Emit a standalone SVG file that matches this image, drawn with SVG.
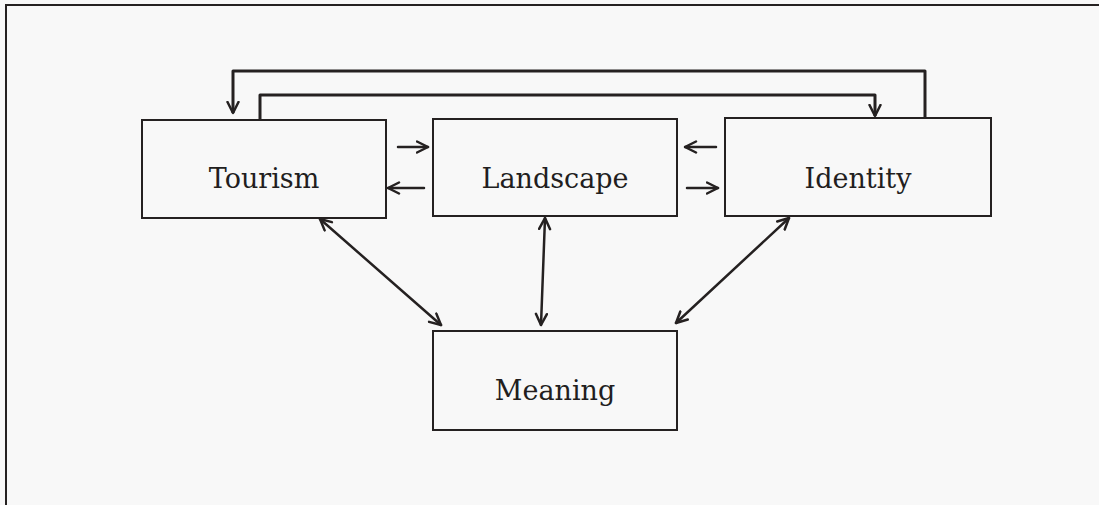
<svg xmlns="http://www.w3.org/2000/svg" width="1099" height="505" viewBox="0 0 1099 505">
  <style>
    .box { fill: none; stroke: #252121; stroke-width: 2; }
    .label { font-family: "DejaVu Serif", "Liberation Serif", serif; font-size: 27px; fill: #221e1e; text-anchor: middle; }
    .link { fill: none; stroke: #252121; stroke-width: 2.5; stroke-linecap: round; stroke-linejoin: round; }
    .loop { fill: none; stroke: #252121; stroke-width: 3; stroke-linejoin: round; }
  </style>
  <defs>
    <marker id="head" viewBox="0 0 14 14" refX="12.5" refY="7" markerWidth="14" markerHeight="14" markerUnits="userSpaceOnUse" orient="auto-start-reverse">
      <path d="M1.5,1.5 L12.5,7 L1.5,12.5" fill="none" stroke="#252121" stroke-width="2.5" stroke-linecap="round" stroke-linejoin="round"/>
    </marker>
  </defs>

  <!-- paper -->
  <rect x="0" y="0" width="1099" height="505" fill="#f8f8f8"/>
  <!-- frame -->
  <path d="M6,505 L6,5 L1099,5" fill="none" stroke="#252121" stroke-width="2"/>

  <g id="tourism">
    <rect class="box" x="142" y="120" width="244" height="98"/>
    <text class="label" x="264" y="188">Tourism</text>
  </g>
  <g id="landscape">
    <rect class="box" x="433" y="119" width="244" height="97"/>
    <text class="label" x="555" y="188">Landscape</text>
  </g>
  <g id="identity">
    <rect class="box" x="725" y="118" width="266" height="98"/>
    <text class="label" x="858" y="188">Identity</text>
  </g>
  <g id="meaning">
    <rect class="box" x="433" y="331" width="244" height="99"/>
    <text class="label" x="555" y="400">Meaning</text>
  </g>

  <g id="connectors">
    <!-- feedback loops across the top -->
    <path class="loop" d="M925,118 L925,71 L233,71 L233,113" marker-end="url(#head)"/>
    <path class="loop" d="M260,120 L260,95 L875,95 L875,116" stroke-width="2.6" marker-end="url(#head)"/>
    <!-- Tourism / Landscape -->
    <path class="link" d="M398,147 L428,147" marker-end="url(#head)"/>
    <path class="link" d="M424,188 L388,188" marker-end="url(#head)"/>
    <!-- Landscape / Identity -->
    <path class="link" d="M716,147 L685,147" marker-end="url(#head)"/>
    <path class="link" d="M687,188 L718,188" marker-end="url(#head)"/>
    <!-- links to Meaning -->
    <path class="link" d="M320,219 L441,325" marker-start="url(#head)" marker-end="url(#head)"/>
    <path class="link" d="M545,218 L541,325" marker-start="url(#head)" marker-end="url(#head)"/>
    <path class="link" d="M789,218 L676,323" marker-start="url(#head)" marker-end="url(#head)"/>
  </g>
</svg>
